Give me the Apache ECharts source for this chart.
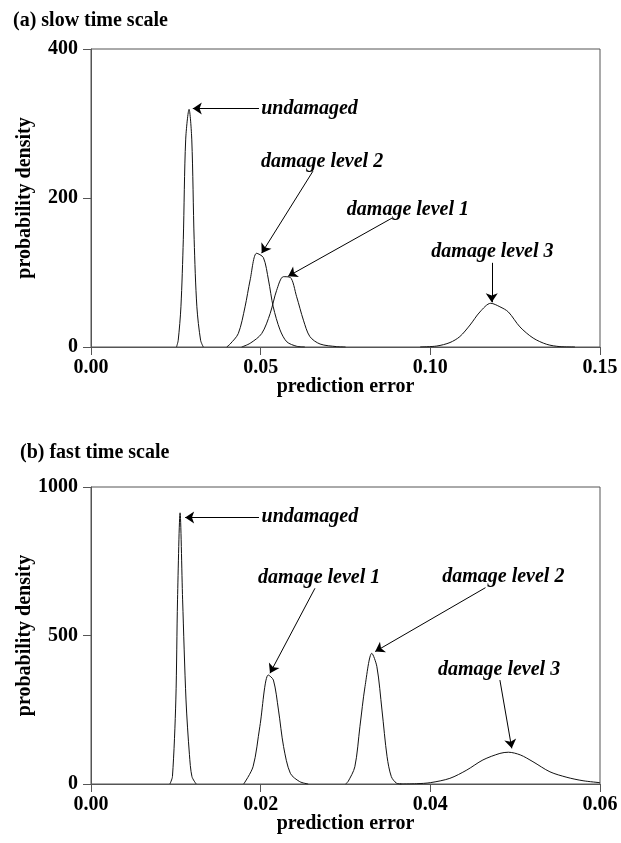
<!DOCTYPE html>
<html>
<head>
<meta charset="utf-8">
<script src="https://cdn.jsdelivr.net/npm/echarts@6/dist/echarts.min.js"></script>
<style>
  html, body { margin: 0; padding: 0; background: #fff; }
  #main { width: 621px; height: 843px; }
</style>
</head>
<body>
<div id="main"></div>
<script>
// (a) slow time scale: [prediction error, probability density]
const slowUndamaged = [[0.0252,0],[0.0257,9],[0.0265,54],[0.0272,144],[0.0279,278],[0.0289,319],[0.0297,278],[0.0304,144],[0.0312,54],[0.0323,9],[0.0331,0]];
const slowLevel1 = [[0.0444,0],[0.0469,5],[0.0503,18],[0.0528,45],[0.0547,76],[0.0567,94.4],[0.0587,93.5],[0.0606,67.5],[0.0626,36],[0.0645,14],[0.0675,4],[0.0724,0.5],[0.0750,0]];
const slowLevel2 = [[0.0400,0],[0.0410,4],[0.0434,18],[0.0454,54],[0.0469,90],[0.0488,125.8],[0.0508,120],[0.0523,90],[0.0537,54],[0.0557,23],[0.0577,7],[0.0606,1],[0.0630,0]];
const slowLevel3 = [[0.0970,0],[0.1019,1.3],[0.1058,6],[0.1087,14],[0.1117,29.5],[0.1146,47],[0.1178,58.7],[0.1205,54],[0.1230,47],[0.1264,27],[0.1303,12],[0.1343,3.6],[0.1382,0.5],[0.1426,0]];

// (b) fast time scale
const fastUndamaged = [[0.0093,0],[0.0096,25],[0.0100,283],[0.0102,620],[0.0105,913],[0.0108,620],[0.0112,283],[0.0116,100],[0.0119,25],[0.0124,0]];
const fastLevel1 = [[0.0180,0],[0.0191,58],[0.0199,193],[0.0209,367],[0.0215,350],[0.0221,249],[0.0227,126],[0.0235,36],[0.0246,8],[0.0256,0]];
const fastLevel2 = [[0.0300,0],[0.0303,8],[0.0311,58],[0.0317,193],[0.0323,328],[0.0331,440],[0.0337,395],[0.0343,249],[0.0349,92],[0.0354,25],[0.0360,3],[0.0366,0]];
const fastLevel3 = [[0.0364,0],[0.0384,1],[0.0400,4.5],[0.0423,19],[0.0443,47],[0.0462,81],[0.0482,103],[0.0492,107],[0.0506,98],[0.0521,75],[0.0541,41],[0.0561,22.5],[0.0580,11],[0.0600,4.5]];

// labels with arrows, in data units: text centre, arrow start, arrow tip
const slowNotes = [
  { name: 'undamaged',      at: [0.0644, 320], from: [0.0495, 320], to: [0.0300, 320] },
  { name: 'damage level 2', at: [0.0681, 249], from: [0.0654, 236], to: [0.0503, 126] },
  { name: 'damage level 1', at: [0.0934, 184], from: [0.0887, 173], to: [0.0581, 95] },
  { name: 'damage level 3', at: [0.1183, 128], from: [0.1181, 113], to: [0.1181, 60] }
];
const fastNotes = [
  { name: 'undamaged',      at: [0.0258, 900], from: [0.0198, 897], to: [0.0111, 897] },
  { name: 'damage level 1', at: [0.0269, 693], from: [0.0264, 659], to: [0.0211, 373] },
  { name: 'damage level 2', at: [0.0486, 698], from: [0.0465, 661], to: [0.0335, 446] },
  { name: 'damage level 3', at: [0.0481, 384], from: [0.0482, 350], to: [0.0496, 120] }
];

const serif = 'Liberation Serif, Times New Roman, serif';
const axisColor = '#555';

const chart = echarts.init(document.getElementById('main'));

const xAxisOf = (idx, max, step) => ({
  type: 'value', gridIndex: idx, min: 0, max: max, interval: step,
  name: 'prediction error', nameLocation: 'middle', nameGap: 30, nameMoveOverlap: false,
  nameTextStyle: { fontFamily: serif, fontWeight: 'bold', fontSize: 20, color: '#000' },
  axisLine: { show: true, lineStyle: { color: axisColor, width: 1 } },
  axisTick: { show: true, length: 8, lineStyle: { color: axisColor } },
  axisLabel: { margin: 11, fontFamily: serif, fontWeight: 'bold', fontSize: 20, color: '#000',
    formatter: v => v.toFixed(2) },
  splitLine: { show: false }
});

const yAxisOf = (idx, max, step) => ({
  type: 'value', gridIndex: idx, min: 0, max: max, interval: step,
  name: 'probability density', nameLocation: 'middle', nameGap: 56, nameMoveOverlap: false,
  nameTextStyle: { fontFamily: serif, fontWeight: 'bold', fontSize: 20, color: '#000' },
  axisLine: { show: true, lineStyle: { color: axisColor, width: 1 } },
  axisTick: { show: true, length: 8, lineStyle: { color: axisColor } },
  axisLabel: { margin: 13, fontFamily: serif, fontWeight: 'bold', fontSize: 20, color: '#000',
    formatter: v => String(v) },
  splitLine: { show: false }
});

const curve = (name, data, idx) => ({
  name: name, type: 'line', xAxisIndex: idx, yAxisIndex: idx,
  data: data, showSymbol: false, smooth: 0.3, silent: true,
  lineStyle: { color: '#111', width: 1 }
});

const notes = (list, idx) => ({
  type: 'line', xAxisIndex: idx, yAxisIndex: idx, data: [], silent: true,
  markLine: {
    silent: true, symbol: ['none', 'arrow'], symbolSize: 9,
    label: { show: false },
    lineStyle: { color: '#000', width: 1, type: 'solid' },
    data: list.map(n => [{ coord: n.from }, { coord: n.to }])
  },
  markPoint: {
    silent: true, symbol: 'rect', symbolSize: 1,
    itemStyle: { color: 'rgba(0,0,0,0)' },
    label: { show: true, position: 'inside', formatter: p => p.name, color: '#000',
      fontFamily: serif, fontWeight: 'bold', fontStyle: 'italic', fontSize: 20 },
    data: list.map(n => ({ name: n.name, coord: n.at }))
  }
});

chart.setOption({
  animation: false,
  backgroundColor: '#fff',
  title: [
    { text: '(a) slow time scale', left: 8, top: 6,
      textStyle: { fontFamily: serif, fontWeight: 'bold', fontSize: 20, color: '#000' } },
    { text: '(b) fast time scale', left: 15, top: 438,
      textStyle: { fontFamily: serif, fontWeight: 'bold', fontSize: 20, color: '#000' } }
  ],
  grid: [
    { left: 91, top: 49, width: 509, height: 298, show: true, borderColor: axisColor, borderWidth: 1,
      containLabel: false, outerBoundsMode: 'none' },
    { left: 91, top: 487, width: 509, height: 297, show: true, borderColor: axisColor, borderWidth: 1,
      containLabel: false, outerBoundsMode: 'none' }
  ],
  xAxis: [xAxisOf(0, 0.15, 0.05), xAxisOf(1, 0.06, 0.02)],
  yAxis: [yAxisOf(0, 400, 200), yAxisOf(1, 1000, 500)],
  series: [
    curve('undamaged', slowUndamaged, 0),
    curve('damage level 1', slowLevel1, 0),
    curve('damage level 2', slowLevel2, 0),
    curve('damage level 3', slowLevel3, 0),
    notes(slowNotes, 0),
    curve('undamaged', fastUndamaged, 1),
    curve('damage level 1', fastLevel1, 1),
    curve('damage level 2', fastLevel2, 1),
    curve('damage level 3', fastLevel3, 1),
    notes(fastNotes, 1)
  ]
});
</script>
</body>
</html>
